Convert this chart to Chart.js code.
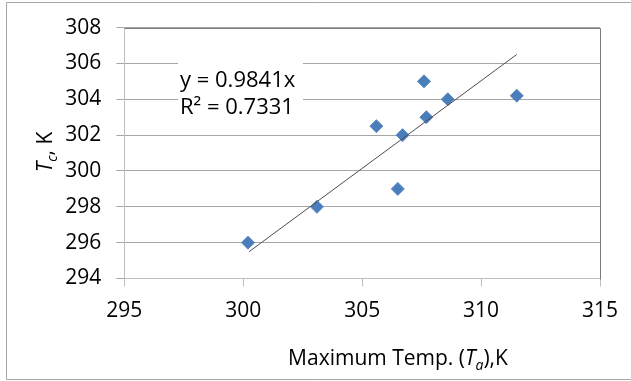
<!DOCTYPE html>
<html>
<head>
<meta charset="utf-8">
<script src="https://cdn.jsdelivr.net/npm/chart.js@4.4.1/dist/chart.umd.min.js"></script>
<style>
  html, body { margin: 0; padding: 0; background: #fff; }
  #wrap { width: 631px; height: 381px; position: relative; }
</style>
</head>
<body>
<div id="wrap"><canvas id="chart" width="631" height="381"></canvas></div>
<script>
// values
const maxTemp = [300.2, 303.1, 305.6, 306.5, 306.7, 307.6, 307.7, 308.6, 311.5];
const tc = [296, 298, 302.5, 299, 302, 305, 303, 304, 304.2];
const trendX = [300.25, 311.5];
const trendY = [295.5, 306.5];
const xTicks = [295, 300, 305, 310, 315];
const yTicks = [294, 296, 298, 300, 302, 304, 306, 308];
const equationLines = ['y = 0.9841x', 'R\u00b2 = 0.7331'];

const FONT = '"Open Sans", "DejaVu Sans", sans-serif';
const FONT_SIZE = 21;

// draw a line of text made of runs (plain / italic / subscript)
function drawRuns(ctx, runs, x, y) {
    const fontFor = r => (r.italic ? 'italic ' : '') + (r.sub ? Math.round(FONT_SIZE * 0.66) : FONT_SIZE) + 'px ' + FONT;
    let total = 0;
    runs.forEach(r => { ctx.font = fontFor(r); total += ctx.measureText(r.text).width; });
    let cx = x - total / 2;
    runs.forEach(r => {
        ctx.font = fontFor(r);
        ctx.fillText(r.text, cx, r.sub ? y + FONT_SIZE * 0.22 : y);
        cx += ctx.measureText(r.text).width;
    });
}

const decorations = {
    id: 'decorations',
    beforeDatasetsDraw(chart) {
        const ctx = chart.ctx;
        const a = chart.chartArea;
        ctx.save();
        // white box behind the trendline label
        ctx.fillStyle = '#fff';
        ctx.fillRect(178, 52, 125, 70);
        // dark plot-area border on top and right
        ctx.strokeStyle = '#7a7a7a';
        ctx.lineWidth = 1;
        ctx.beginPath();
        ctx.moveTo(Math.round(a.left) + 0.5, Math.round(a.top) + 0.5);
        ctx.lineTo(Math.round(a.right) + 0.5, Math.round(a.top) + 0.5);
        ctx.lineTo(Math.round(a.right) + 0.5, Math.round(a.bottom) + 0.5);
        ctx.stroke();
        ctx.restore();
    },
    afterDraw(chart) {
        const ctx = chart.ctx;
        ctx.save();
        // outer chart border
        ctx.strokeStyle = '#a6a6a6';
        ctx.lineWidth = 1;
        ctx.beginPath();
        ctx.moveTo(631, 2.5);
        ctx.lineTo(6.5, 2.5);
        ctx.lineTo(6.5, 379.5);
        ctx.lineTo(631, 379.5);
        ctx.stroke();

        ctx.fillStyle = '#000';
        ctx.textBaseline = 'alphabetic';
        ctx.textAlign = 'left';
        // trendline equation
        ctx.font = '22px ' + FONT;
        ctx.fillText(equationLines[0], 180, 87);
        ctx.fillText(equationLines[1], 180, 114);

        // x axis title
        drawRuns(ctx, [
            { text: 'Maximum Temp. (' },
            { text: 'T', italic: true },
            { text: 'a', italic: true, sub: true },
            { text: '),K' }
        ], 398, 365);

        // y axis title
        ctx.translate(52, 152);
        ctx.rotate(-Math.PI / 2);
        drawRuns(ctx, [
            { text: 'T', italic: true },
            { text: 'c', italic: true, sub: true },
            { text: ', K' }
        ], 0, 0);
        ctx.restore();
    }
};

const ctx = document.getElementById('chart').getContext('2d');
new Chart(ctx, {
    type: 'scatter',
    data: {
        datasets: [{
            label: 'Linear trend',
            data: trendX.map((x, i) => ({ x: x, y: trendY[i] })),
            showLine: true,
            borderColor: '#4d4d4d',
            borderWidth: 1,
            pointRadius: 0,
            fill: false
        }, {
            label: 'Tc',
            data: maxTemp.map((x, i) => ({ x: x, y: tc[i] })),
            pointStyle: 'rectRot',
            pointRadius: 6.5,
            backgroundColor: '#4a7ebb',
            borderColor: '#5a8ac4',
            borderWidth: 1
        }]
    },
    options: {
        responsive: false,
        animation: false,
        devicePixelRatio: 1,
        layout: { padding: { left: 0, right: 31, top: 25.5, bottom: 0 } },
        plugins: {
            legend: { display: false },
            tooltip: { enabled: false }
        },
        scales: {
            x: {
                type: 'linear',
                min: 295,
                max: 315,
                afterBuildTicks: s => { s.ticks = xTicks.map(v => ({ value: v })); },
                afterFit: s => { s.height = 102.5; },
                grid: { drawOnChartArea: false, drawTicks: true, tickLength: 8, tickColor: '#bfbfbf' },
                border: { color: '#bfbfbf', width: 1 },
                ticks: { color: '#000', padding: 12, maxRotation: 0, font: { family: FONT, size: FONT_SIZE } }
            },
            y: {
                type: 'linear',
                min: 294,
                max: 308,
                afterBuildTicks: s => { s.ticks = yTicks.map(v => ({ value: v })); },
                afterFit: s => { s.width = 124.3; },
                grid: { color: '#a6a6a6', tickLength: 8, tickColor: '#a6a6a6' },
                border: { color: '#bfbfbf', width: 1 },
                ticks: { color: '#000', padding: 15, font: { family: FONT, size: FONT_SIZE } }
            }
        }
    },
    plugins: [decorations]
});
</script>
</body>
</html>
